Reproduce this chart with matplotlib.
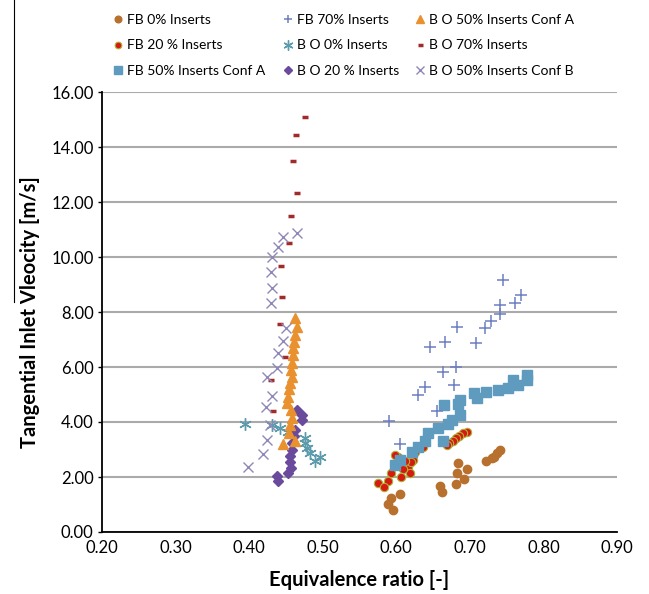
import matplotlib
matplotlib.use("Agg")
import matplotlib.pyplot as plt
from matplotlib.lines import Line2D

plt.rcParams['font.family'] = ['Lato', 'DejaVu Sans']

# FB series
fb0_x = [0.741, 0.737, 0.733, 0.730, 0.722, 0.684, 0.696, 0.682, 0.692, 0.681,
         0.659, 0.662, 0.605, 0.593, 0.589, 0.595]
fb0_y = [2.98, 2.87, 2.73, 2.69, 2.58, 2.51, 2.29, 2.15, 1.93, 1.75,
         1.67, 1.45, 1.38, 1.24, 1.02, 0.80]

fb20_x = [0.696, 0.690, 0.685, 0.681, 0.677, 0.671, 0.669, 0.636, 0.625, 0.623,
          0.616, 0.618, 0.609, 0.606, 0.602, 0.593, 0.589, 0.575, 0.583, 0.620,
          0.612, 0.598]
fb20_y = [3.64, 3.60, 3.49, 3.42, 3.31, 3.24, 3.16, 3.09, 2.91, 2.62,
          2.36, 2.15, 2.29, 2.00, 2.73, 2.15, 1.85, 1.78, 1.64, 2.55,
          2.60, 2.80]

fb50a_x = [0.777, 0.777, 0.765, 0.758, 0.752, 0.738, 0.722, 0.710, 0.705, 0.686,
           0.684, 0.665, 0.686, 0.676, 0.670, 0.657, 0.643, 0.639, 0.663, 0.629,
           0.621, 0.605, 0.598]
fb50a_y = [5.71, 5.53, 5.35, 5.53, 5.24, 5.16, 5.09, 4.87, 5.05, 4.80,
           4.65, 4.62, 4.25, 4.07, 3.93, 3.78, 3.60, 3.31, 3.31, 3.09,
           2.91, 2.62, 2.44]

fb70_x = [0.745, 0.769, 0.762, 0.741, 0.741, 0.729, 0.720, 0.708, 0.682, 0.666,
          0.646, 0.681, 0.663, 0.678, 0.639, 0.629, 0.655, 0.590, 0.605]
fb70_y = [9.16, 8.62, 8.33, 8.25, 7.93, 7.67, 7.42, 6.87, 7.45, 6.91,
          6.73, 6.00, 5.82, 5.35, 5.27, 4.98, 4.40, 4.04, 3.20]

# B O series
bo0_x = [0.394, 0.431, 0.442, 0.453, 0.476, 0.476, 0.479, 0.483, 0.496, 0.489]
bo0_y = [3.93, 3.89, 3.78, 3.64, 3.42, 3.24, 3.05, 2.87, 2.73, 2.58]

bo20_x = [0.465, 0.472, 0.472, 0.462, 0.461, 0.458, 0.458, 0.455, 0.455, 0.457,
          0.453, 0.438, 0.439]
bo20_y = [4.44, 4.25, 4.07, 3.71, 3.49, 3.24, 2.98, 2.76, 2.55, 2.33,
          2.15, 2.04, 1.85]

bo50a_x = [0.462, 0.465, 0.462, 0.461, 0.460, 0.460, 0.458, 0.457, 0.458, 0.455,
           0.454, 0.453, 0.451, 0.457, 0.458, 0.455, 0.454, 0.462, 0.446]
bo50a_y = [7.78, 7.45, 7.16, 6.91, 6.69, 6.44, 6.15, 5.89, 5.64, 5.42,
           5.20, 4.91, 4.69, 4.44, 4.15, 3.89, 3.60, 3.31, 3.20]

bo70_x = [0.476, 0.464, 0.460, 0.465, 0.457, 0.454, 0.443, 0.445, 0.442, 0.449,
          0.430, 0.432]
bo70_y = [15.09, 14.44, 13.49, 12.33, 11.49, 10.51, 9.67, 8.55, 7.56, 6.36,
          5.53, 4.40]

bo50b_x = [0.465, 0.446, 0.439, 0.431, 0.430, 0.431, 0.430, 0.450, 0.446, 0.439,
           0.438, 0.424, 0.431, 0.423, 0.428, 0.424, 0.419, 0.398]
bo50b_y = [10.87, 10.73, 10.36, 10.00, 9.45, 8.87, 8.33, 7.42, 6.95, 6.51,
           5.96, 5.64, 4.95, 4.55, 3.89, 3.35, 2.84, 2.36]

yticks = [0, 2, 4, 6, 8, 10, 12, 14, 16]
xticks = [0.2, 0.3, 0.4, 0.5, 0.6, 0.7, 0.8, 0.9]

fig = plt.figure(figsize=(6.49, 5.94), dpi=100)
ax = fig.add_axes([102 / 649, 1 - 532 / 594, 515 / 649, 440 / 594])

ax.plot(fb0_x, fb0_y, 'o', color='#B8702E', ms=6, mec='#B8702E', label='FB 0% Inserts')
ax.plot(fb20_x, fb20_y, 'o', color='#D7190F', ms=6, mec='#A9B43A', mew=0.8,
        label='FB 20 % Inserts')
ax.plot(fb50a_x, fb50a_y, 's', color='#5E9BBE', ms=6.5, label='FB 50% Inserts Conf A')
ax.plot(fb70_x, fb70_y, '+', color='#6E7EC2', ms=8, mew=1.1, label='FB 70% Inserts')
ax.plot(bo0_x, bo0_y, marker=(6, 2, 0), ls='none', color='#5C9BAC', ms=9, mew=1.0,
        label='B O 0% Inserts')
ax.plot(bo20_x, bo20_y, 'D', color='#6A4A9C', ms=5.5, label='B O 20 % Inserts')
ax.plot(bo50a_x, bo50a_y, '^', color='#E8912E', ms=7, label='B O 50% Inserts Conf A')
ax.plot(bo70_x, bo70_y, '_', color='#A12A2A', ms=4.5, mew=2.5, label='B O 70% Inserts')
ax.plot(bo50b_x, bo50b_y, 'x', color='#8E88B8', ms=7.5, mew=1.0,
        label='B O 50% Inserts Conf B')

ax.set_xlim(0.2, 0.9)
ax.set_ylim(0, 16)
ax.set_xticks(xticks)
ax.set_xticklabels(['%.2f' % v for v in xticks])
ax.set_yticks(yticks)
ax.set_yticklabels(['%.2f' % v for v in yticks])
ax.tick_params(axis='both', labelsize=12, colors='black')
ax.tick_params(axis='x', length=0, pad=6)
ax.tick_params(axis='y', length=3, width=1, pad=3)
ax.yaxis.grid(True, color='#AAAAAA', lw=1.5)
ax.set_axisbelow(True)
for s in ['top', 'right']:
    ax.spines[s].set_visible(False)
for s in ['left', 'bottom']:
    ax.spines[s].set_linewidth(1.3)
    ax.spines[s].set_color('black')

ax.set_xlabel('Equivalence ratio [-]', fontsize=14.5, fontweight='bold', labelpad=10)
ax.set_ylabel('Tangential Inlet Vleocity [m/s]', fontsize=14.5, fontweight='bold',
              labelpad=8)

# legend: three columns placed separately
handles, labels = ax.get_legend_handles_labels()
col_x = [101, 271, 403]
for i, cx in enumerate(col_x):
    fig.legend(handles[3 * i:3 * i + 3], labels[3 * i:3 * i + 3], loc='upper left',
               bbox_to_anchor=(cx / 649, 1 - 1 / 594), frameon=False, fontsize=10,
               handlelength=0.6, handletextpad=0.4, labelspacing=1.0, markerscale=0.8)

# stray vertical line at left edge
fig.add_artist(Line2D([14 / 649, 14 / 649], [1.0, 1 - 302 / 594], color='black', lw=0.8))

fig.savefig('out.png', dpi=100)
